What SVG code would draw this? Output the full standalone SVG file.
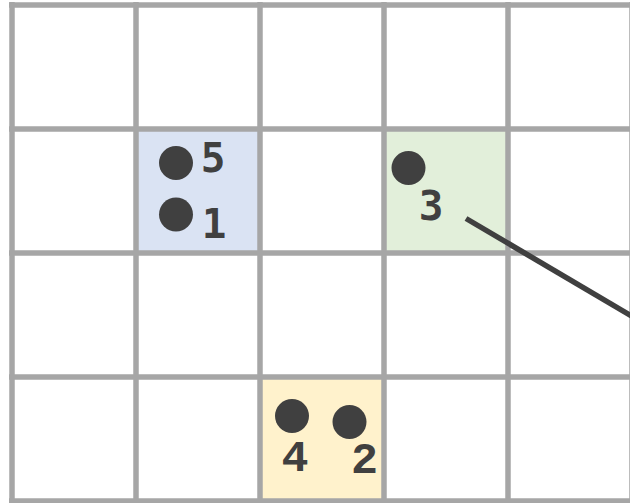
<svg xmlns="http://www.w3.org/2000/svg" width="630" height="503" viewBox="0 0 630 503">
<style>
.grid{stroke:#a6a6a6;stroke-width:5.5;fill:none}
.dot{fill:#404040}
.lbl{fill:#404040;text-anchor:middle}
.dj{font-family:"DejaVu Sans Mono",monospace;font-size:41px;font-weight:bold}
.lm{font-family:"Liberation Mono",monospace;font-size:45px;font-weight:bold}
</style>
<rect width="630" height="503" fill="#ffffff"/>
<g id="cells">
<rect x="136" y="129" width="124" height="124" fill="#dae3f3"/>
<rect x="384" y="129" width="124" height="124" fill="#e2efda"/>
<rect x="260" y="377" width="124" height="124" fill="#fff2cc"/>
</g>
<g id="grid" class="grid">
<path d="M12 2V503M136 2V503M260 2V503M384 2V503M508 2V503M632 2V503"/>
<path d="M9 5H635M9 129H635M9 253H635M9 377H635M9 501H635"/>
</g>
<g id="connectors">
<line x1="466" y1="218.5" x2="640" y2="321" stroke="#404040" stroke-width="5.5"/>
</g>
<g id="node5"><circle class="dot" cx="176" cy="163" r="17"/><text class="lbl dj" x="213" y="172">5</text></g>
<g id="node1"><circle class="dot" cx="176" cy="214.5" r="17"/><text class="lbl dj" x="214" y="238">1</text></g>
<g id="node3"><circle class="dot" cx="408.5" cy="168" r="17"/><text class="lbl dj" x="431" y="220">3</text></g>
<g id="node4"><circle class="dot" cx="292" cy="416" r="17"/><text class="lbl lm" x="295" y="471">4</text></g>
<g id="node2"><circle class="dot" cx="349.5" cy="422" r="17"/><text class="lbl lm" x="364.5" y="473">2</text></g>
</svg>
